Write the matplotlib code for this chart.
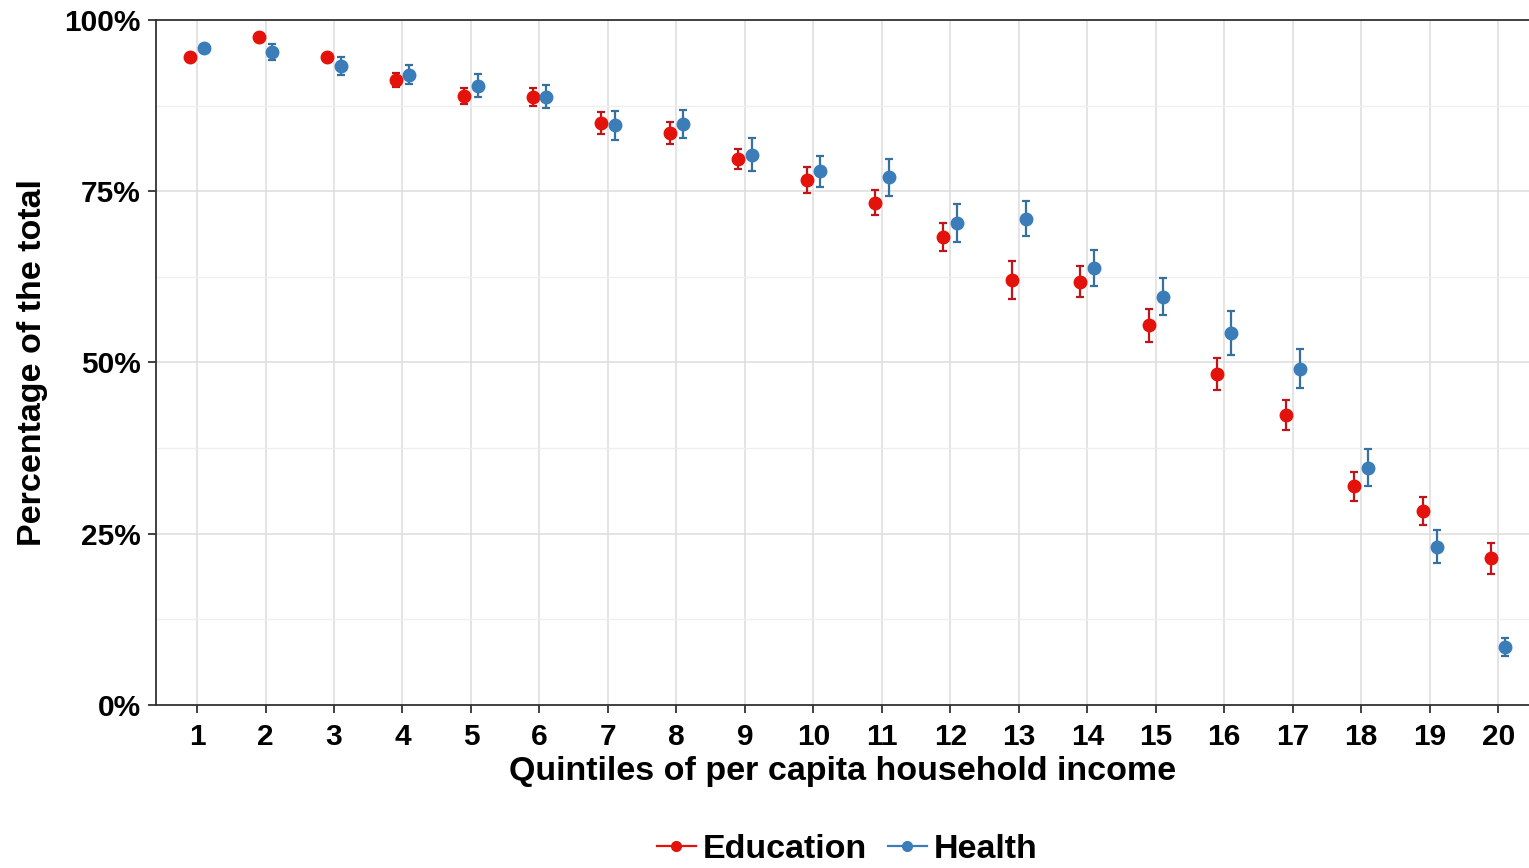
import matplotlib
matplotlib.use("Agg")
import matplotlib.pyplot as plt
import numpy as np
from matplotlib.lines import Line2D
from matplotlib.ticker import MultipleLocator, PercentFormatter

plt.rcParams['font.family'] = ['Liberation Sans', 'DejaVu Sans']

quintiles = list(range(1, 21))

# share of the total (%) and half-width of the interval
education = [94.6, 97.5, 94.6, 91.2, 88.9, 88.8, 85.0, 83.5, 79.7, 76.6,
             73.3, 68.3, 62.0, 61.8, 55.4, 48.3, 42.3, 31.9, 28.3, 21.4]
education_err = [0.4, 0.3, 0.4, 1.0, 1.2, 1.3, 1.6, 1.6, 1.5, 1.9,
                 1.8, 2.1, 2.8, 2.3, 2.4, 2.4, 2.2, 2.1, 2.1, 2.3]
health = [95.9, 95.3, 93.3, 92.0, 90.4, 88.8, 84.6, 84.8, 80.3, 77.9,
          77.0, 70.4, 71.0, 63.8, 59.6, 54.3, 49.1, 34.6, 23.1, 8.5]
health_err = [0.5, 1.2, 1.3, 1.4, 1.7, 1.7, 2.1, 2.0, 2.4, 2.3,
              2.7, 2.8, 2.5, 2.6, 2.7, 3.2, 2.9, 2.7, 2.4, 1.3]

RED = "#E3120B"
BLUE = "#3A7DB9"
DODGE = 0.1

fig = plt.figure(figsize=(15.29, 8.68), dpi=100)
ax = fig.add_axes([0.102, 0.188, 0.898, 0.789])

x = np.array(quintiles)
ax.errorbar(x - DODGE, education, yerr=education_err, fmt='o', color=RED,
            ecolor="#C0141A", elinewidth=1.6, capsize=3, capthick=1.6,
            markersize=9, zorder=3)
ax.errorbar(x + DODGE, health, yerr=health_err, fmt='o', color=BLUE,
            ecolor="#36709F", elinewidth=1.6, capsize=3, capthick=1.6,
            markersize=9, zorder=3)

ax.set_xlim(0.4, 20.45)
ax.set_ylim(0, 100)
ax.set_xticks(quintiles)
ax.yaxis.set_major_locator(MultipleLocator(25))
ax.yaxis.set_minor_locator(MultipleLocator(12.5))
ax.yaxis.set_major_formatter(PercentFormatter(decimals=0))

ax.grid(which='major', color="#DCDCDC", linewidth=1.1)
ax.grid(which='minor', axis='y', color="#EEEEEE", linewidth=0.9)
ax.set_axisbelow(True)

for side in ['left', 'bottom', 'top']:
    ax.spines[side].set_color("#333333")
    ax.spines[side].set_linewidth(1.3)
ax.spines['right'].set_visible(False)

ax.tick_params(axis='both', which='major', length=6, width=1.3,
               color="#333333", labelsize=21.5)
ax.tick_params(axis='x', which='major', pad=7)
ax.tick_params(axis='y', which='major', pad=5)
ax.tick_params(axis='y', which='minor', length=0)
for lab in ax.get_xticklabels() + ax.get_yticklabels():
    lab.set_fontweight('bold')

ax.set_xlabel("Quintiles of per capita household income", fontsize=24.5,
              fontweight='bold', labelpad=4)
ax.set_ylabel("Percentage of the total", fontsize=24.5, fontweight='bold',
              labelpad=12)

handles = [
    Line2D([0], [0], color=RED, marker='o', markersize=7, linewidth=1.6),
    Line2D([0], [0], color=BLUE, marker='o', markersize=7, linewidth=1.6),
]
fig.legend(handles, ["Education", "Health"], loc='center',
           bbox_to_anchor=(0.554, 0.021), ncol=2, frameon=False,
           prop={'size': 24.5, 'weight': 'bold'}, handlelength=1.15,
           handletextpad=0.2, columnspacing=0.6)

fig.savefig("out.png", dpi=100)
